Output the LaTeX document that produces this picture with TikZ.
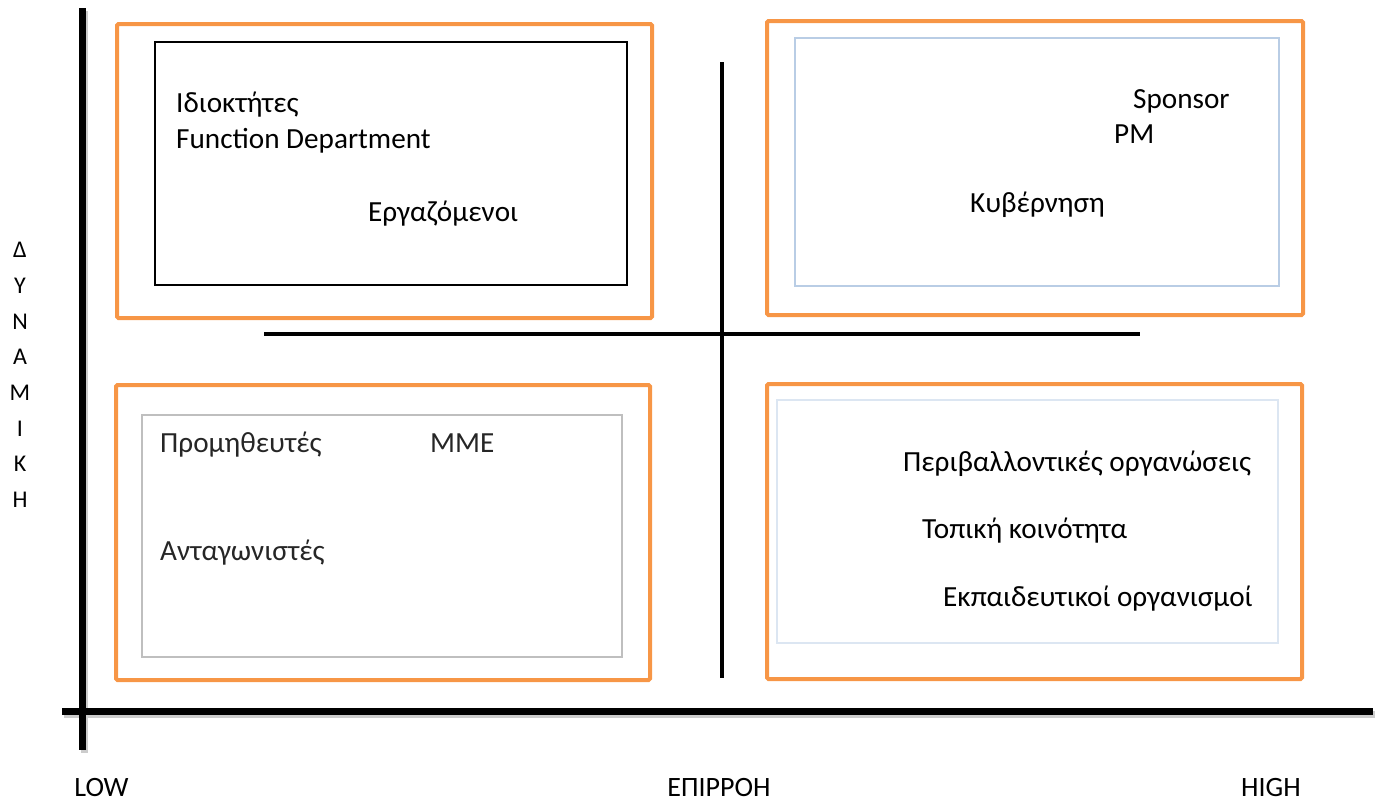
\documentclass[tikz,border=0pt]{standalone}
\usepackage{fontspec}
\setmainfont{Carlito}
\definecolor{accent}{HTML}{F79646}
\definecolor{paleblue}{HTML}{B9CDE5}
\definecolor{paleblueii}{HTML}{DCE6F2}
\definecolor{softgray}{HTML}{BFBFBF}
\begin{document}
\begin{tikzpicture}[x=1pt,y=-1pt,
  outerbox/.style={draw=accent,line width=4pt,rounded corners=1.5pt},
  axis/.style={draw=black,line width=7pt},
  cross/.style={draw=black,line width=3.5pt},
  lbl/.style={anchor=base west,inner sep=0pt,font=\fontsize{29.2}{33}\selectfont},
  axlbl/.style={anchor=base,inner sep=0pt,text depth=0pt,font=\fontsize{28}{32}\selectfont}]
\useasboundingbox (0,0) rectangle (1380,801);

% quadrant frames
\draw[outerbox] (117,24) rectangle (652,318);
\draw[outerbox] (767,21) rectangle (1303,315);
\draw[outerbox] (116,385) rectangle (650,680);
\draw[outerbox] (767,384) rectangle (1302,679);

% inner panels
\draw[black,line width=1.5pt] (155,42) rectangle (627,285);
\draw[paleblue,line width=1.5pt] (795,38) rectangle (1279,286);
\draw[softgray,line width=2pt] (142,415) rectangle (622,657);
\draw[paleblueii,line width=1.5pt] (777,400) rectangle (1278,643);

% dividing cross
\coordinate (vt) at (722,62);
\coordinate (vb) at (722,678);
\coordinate (hl) at (264,334);
\coordinate (hr) at (1140,334);
\draw[cross] (vt) -- (vb);
\draw[cross] (hl) -- (hr);

% axes with a soft shadow
\coordinate (yt) at (82,8);
\coordinate (yb) at (82,750);
\coordinate (xl) at (62,711);
\coordinate (xr) at (1373,711);
\draw[gray!40,line width=7pt] ([shift={(2,3)}]xl) -- ([shift={(2,3)}]xr);
\draw[gray!40,line width=7pt] ([shift={(2,3)}]yt) -- ([shift={(2,3)}]yb);
\draw[axis] (yt) -- (yb);
\draw[axis] (xl) -- (xr);

% top-left
\node[lbl] (own) at (176,112) {Ιδιοκτήτες};
\node[lbl] (fun) at (176,148) {Function Department};
\node[lbl] (emp) at (368,221) {Εργαζόμενοι};
% top-right
\node[lbl] (spo) at (1133,108) {Sponsor};
\node[lbl] (pm)  at (1114,143) {PM};
\node[lbl] (gov) at (970,212) {Κυβέρνηση};
% bottom-left
\node[lbl,text=black!85] (sup) at (160,452) {Προμηθευτές};
\node[lbl,text=black!85] (med) at (430,452) {ΜΜΕ};
\node[lbl,text=black!85] (com) at (160,560) {Ανταγωνιστές};
% bottom-right
\node[lbl] (env) at (903,471) {Περιβαλλοντικές οργανώσεις};
\node[lbl] (loc) at (922,538) {Τοπική κοινότητα};
\node[lbl] (edu) at (943,606) {Εκπαιδευτικοί οργανισμοί};

% vertical axis title
\node[inner sep=0pt,align=center,anchor=north,font=\fontsize{24}{35.7}\selectfont] (pow) at (20,242)
  {Δ\\Υ\\Ν\\Α\\Μ\\Ι\\Κ\\Η};

% horizontal axis labels
\node[axlbl] (low)  at (101.5,796) {LOW};
\node[axlbl] (inf)  at (719,796) {ΕΠΙΡΡΟΗ};
\node[axlbl] (high) at (1271,796) {HIGH};
\end{tikzpicture}
\end{document}
